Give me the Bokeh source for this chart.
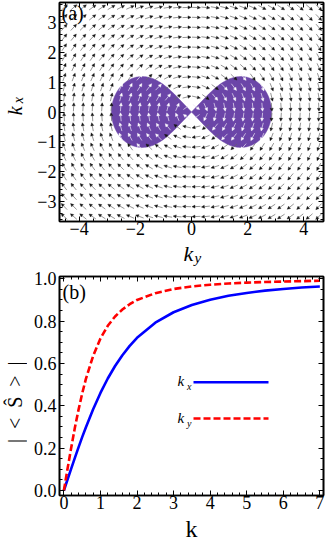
import numpy as np
from bokeh.plotting import figure
from bokeh.models import (Range1d, Label, Arrow, NormalHead, ColumnDataSource,
                          LinearAxis, FixedTicker, NumeralTickFormatter)
from bokeh.layouts import column, row
from bokeh.embed import file_html
from bokeh.resources import INLINE

# ---------------- data: panel (a) ----------------
ky_lim = (-4.7, 4.7)
kx_lim = (-3.67, 3.67)
n_cols = 28            # arrows across k_y
n_rows = 22            # arrows across k_x
coef_h = 1.45          # horizontal component  ~  coef_h * k_x
coef_v = 1.0           # vertical component    ~ -coef_v * k_y
lobe_reach = 2.85      # lobe extent along k_y
lobe_exp = 0.3         # lobe shape exponent
ticks_a_x = [-4, -2, 0, 2, 4]
ticks_a_y = [-3, -2, -1, 0, 1, 2, 3]

# ---------------- data: panel (b) ----------------
k_vals = [0, 0.1, 0.2, 0.3, 0.4, 0.5, 0.6, 0.8, 1.0, 1.2, 1.4, 1.6, 1.8, 2.0,
          2.5, 3.0, 3.5, 4.0, 4.5, 5.0, 5.5, 6.0, 6.5, 7.0]
S_kx = [0, 0.052, 0.103, 0.154, 0.204, 0.252, 0.298, 0.384, 0.461, 0.529, 0.588,
        0.639, 0.683, 0.721, 0.793, 0.842, 0.876, 0.901, 0.920, 0.933, 0.944,
        0.952, 0.959, 0.964]
S_ky = [0, 0.103, 0.202, 0.296, 0.381, 0.458, 0.526, 0.636, 0.718, 0.778, 0.822,
        0.855, 0.880, 0.900, 0.932, 0.952, 0.964, 0.972, 0.978, 0.982, 0.985,
        0.987, 0.989, 0.991]
ticks_b_x = [0, 1, 2, 3, 4, 5, 6, 7]
ticks_b_y = [0.0, 0.2, 0.4, 0.6, 0.8, 1.0]

SERIF = "Liberation Serif"
ASC = 0.891        # font ascent (em) used to turn a baseline into a "top" anchor
FW, FH = 264, 219
PURPLE = "#6B45A8"
LEFT = 59          # page x of the frames' left edge
STRIP_W = 27       # width of the left label strips
BOT = 20           # bottom border of each panel
TOTAL_H = 542


def style_axes(p, xt, yt, xminor, yminor, xover=None, yover=None):
    p.grid.visible = False
    p.outline_line_color = "black"
    p.outline_line_width = 1.6
    p.xaxis.ticker = FixedTicker(ticks=xt, minor_ticks=xminor)
    p.yaxis.ticker = FixedTicker(ticks=yt, minor_ticks=yminor)
    if xover:
        p.xaxis.major_label_overrides = xover
    if yover:
        p.yaxis.major_label_overrides = yover
    for axl in (p.xaxis, p.yaxis):
        axl.major_tick_in = 5
        axl.major_tick_out = 0
        axl.minor_tick_in = 3
        axl.minor_tick_out = 0
        axl.axis_line_width = 1.6
        axl.major_label_text_font = SERIF
        axl.major_label_text_font_size = "18px"
        axl.major_label_text_color = "black"
    p.xaxis.major_label_standoff = 0
    p.yaxis.major_label_standoff = 3
    top = LinearAxis(ticker=FixedTicker(ticks=xt, minor_ticks=xminor),
                     major_label_overrides={t: "" for t in xt},
                     major_tick_in=5, major_tick_out=0,
                     minor_tick_in=3, minor_tick_out=0, axis_line_width=1.6,
                     major_label_standoff=0, major_label_text_font_size="1px")
    right = LinearAxis(ticker=FixedTicker(ticks=yt, minor_ticks=yminor),
                       major_label_overrides={t: "" for t in yt},
                       major_tick_in=5, major_tick_out=0,
                       minor_tick_in=3, minor_tick_out=0, axis_line_width=1.6,
                       major_label_standoff=0, major_label_text_font_size="1px")
    p.add_layout(top, "above")
    p.add_layout(right, "right")


class Strip:
    """A bare figure whose data units are page pixels (origin ox, oy)."""

    def __init__(self, ox, oy, w, h):
        self.ox, self.oy, self.h = ox, oy, h
        s = figure(width=w, height=h, x_range=Range1d(0, w), y_range=Range1d(0, h),
                   output_backend="svg", toolbar_location=None, x_axis_type=None,
                   y_axis_type=None, min_border=0, min_border_left=0, min_border_right=0,
                   min_border_top=0, min_border_bottom=0,
                   background_fill_color="white", border_fill_color="white")
        s.outline_line_color = None
        s.grid.visible = False
        self.fig = s

    def map(self, px, py):
        return px - self.ox, self.h - (py - self.oy)


def put(fig, mapper, px, py, text, fs, italic=False, rotated=False, align="left"):
    """px/py: page position of the text start (or centre) and of its baseline."""
    if rotated:
        ax, ay = mapper(px - ASC * fs, py)      # px is the baseline x
    else:
        ax, ay = mapper(px, py - ASC * fs)      # py is the baseline y
    fig.add_layout(Label(x=ax, y=ay, text=text, text_font=SERIF, text_font_size=f"{fs}px",
                         text_font_style="italic" if italic else "normal",
                         text_align=align, text_baseline="top",
                         angle=np.pi / 2 if rotated else 0.0, text_color="black"))


# ================= panel (a) =================
TOP_A = 2
p1 = figure(frame_width=FW, frame_height=FH, x_range=Range1d(*ky_lim), y_range=Range1d(*kx_lim),
            output_backend="svg", toolbar_location=None,
            min_border_left=LEFT - STRIP_W, min_border_right=3, min_border_top=TOP_A,
            min_border_bottom=BOT, background_fill_color="white", border_fill_color="white")

sx = FW / (ky_lim[1] - ky_lim[0])
sy = FH / (kx_lim[1] - kx_lim[0])

th = np.linspace(-np.pi / 4, np.pi / 4, 181)
r = lobe_reach * np.clip(np.cos(2 * th), 0, None) ** lobe_exp
lx = r * np.cos(th)
ly = r * np.sin(th)
p1.patches([list(lx), list(-lx)], [list(ly), list(ly)], fill_color=PURPLE, line_color=PURPLE,
           line_width=0.5)

gx = ky_lim[0] + (np.arange(n_cols) + 0.5) * (ky_lim[1] - ky_lim[0]) / n_cols
gy = kx_lim[0] + (np.arange(n_rows) + 0.5) * (kx_lim[1] - kx_lim[0]) / n_rows
X, Y = np.meshgrid(gx, gy)
X = X.ravel(); Y = Y.ravel()
vx = coef_h * Y * sx
vy = -coef_v * X * sy
nrm = np.hypot(vx, vy)
L = 8.5
dx = vx / nrm * L / sx
dy = vy / nrm * L / sy
x0, x1 = X - dx / 2, X + dx / 2
y0, y1 = Y - dy / 2, Y + dy / 2

rr = np.hypot(X, Y)
ang = np.arctan2(Y, np.abs(X))
inside = (np.abs(ang) < np.pi / 4) & (rr < lobe_reach * np.clip(np.cos(2 * ang), 0, None) ** lobe_exp)

for mask, col, lc in ((~inside, "#151515", "#666666"), (inside, "#FFFFFF", "#ECE8F5")):
    src = ColumnDataSource(dict(x0=x0[mask], y0=y0[mask], x1=x1[mask], y1=y1[mask]))
    p1.add_layout(Arrow(end=NormalHead(size=3, fill_color=col, line_color=col, line_width=0.4),
                        x_start="x0", y_start="y0", x_end="x1", y_end="y1", source=src,
                        line_color=lc, line_width=0.7))

style_axes(p1, ticks_a_x, ticks_a_y,
           [v / 2 for v in range(-9, 10)], [v / 5 for v in range(-18, 19)],
           xover={t: str(t).replace("-", "\u2212") for t in ticks_a_x},
           yover={t: str(t).replace("-", "\u2212") for t in ticks_a_y})


def map_a(px, py):
    return ky_lim[0] + (px - LEFT) / sx, kx_lim[1] - (py - TOP_A) / sy


p1.add_layout(Label(x=map_a(61, 1)[0], y=map_a(61, 1)[1], text="(a)", text_font=SERIF,
                    text_font_size="20px", text_align="left", text_baseline="top",
                    text_color="black"))

H1 = TOP_A + FH + BOT                 # page y where panel (a) ends
la = Strip(0, 0, STRIP_W, H1)
put(la.fig, la.map, 21, 124, "k", 20, italic=True, rotated=True)
put(la.fig, la.map, 23, 111, "x", 14, italic=True, rotated=True)

B_TOP = 266
sa = Strip(0, H1, LEFT + FW + 3, B_TOP - H1)
put(sa.fig, sa.map, 183, 260, "k", 22, italic=True)
put(sa.fig, sa.map, 194, 262.5, "y", 15, italic=True)

# ================= panel (b) =================
TOP_B = 276 - B_TOP
bx = (-0.12, 7.1)
by = (-0.0236, 1.0109)
p2 = figure(frame_width=FW, frame_height=FH, x_range=Range1d(*bx), y_range=Range1d(*by),
            output_backend="svg", toolbar_location=None,
            min_border_left=LEFT - STRIP_W, min_border_right=3, min_border_top=TOP_B,
            min_border_bottom=BOT, background_fill_color="white", border_fill_color="white")

p2.line(k_vals, S_kx, line_color="#0000FF", line_width=2.6)
p2.line(k_vals, S_ky, line_color="#FF0000", line_width=2.6, line_dash="7 3")

style_axes(p2, ticks_b_x, ticks_b_y,
           [v / 5 for v in range(0, 36)], [v / 20 for v in range(0, 21)])
p2.yaxis[0].formatter = NumeralTickFormatter(format="0.0")

bsx = FW / (bx[1] - bx[0])
bsy = FH / (by[1] - by[0])
FRAME_B_TOP = B_TOP + TOP_B


def map_b(px, py):
    return bx[0] + (px - LEFT) / bsx, by[1] - (py - FRAME_B_TOP) / bsy


leg_x0, leg_y_kx = map_b(193, 381.7)
leg_x1, leg_y_ky = map_b(268, 418)
p2.line([leg_x0, leg_x1], [leg_y_kx] * 2, line_color="#0000FF", line_width=2.6)
p2.line([leg_x0, leg_x1], [leg_y_ky] * 2, line_color="#FF0000", line_width=2.6, line_dash="7 3")
put(p2, map_b, 177, 386, "k", 15, italic=True)
put(p2, map_b, 186.5, 389, "x", 10, italic=True)
put(p2, map_b, 177, 423, "k", 15, italic=True)
put(p2, map_b, 186.5, 426, "y", 10, italic=True)

p2.add_layout(Label(x=map_b(62, 280)[0], y=map_b(62, 280)[1], text="(b)", text_font=SERIF,
                    text_font_size="20px", text_align="left", text_baseline="top",
                    text_color="black"))

H2 = TOP_B + FH + BOT
lb = Strip(0, B_TOP, STRIP_W, H2)
put(lb.fig, lb.map, 21, 409, "|\u2002<\u2002\u015C\u2002>\u2002|", 20,
    rotated=True, align="center")

sb = Strip(0, B_TOP + H2, LEFT + FW + 3, TOTAL_H - (B_TOP + H2))
put(sb.fig, sb.map, 185, 537, "k", 24)

layout = column(row(la.fig, p1), sa.fig, row(lb.fig, p2), sb.fig)
open("out.html", "w").write(file_html(layout, INLINE))
